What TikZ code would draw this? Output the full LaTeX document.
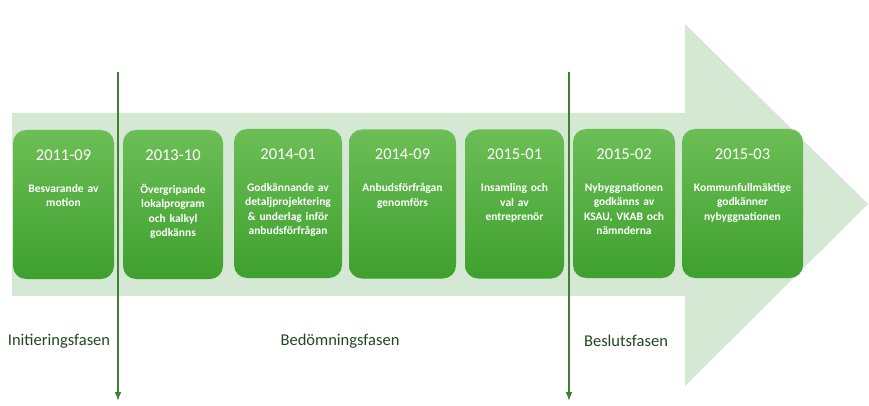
\documentclass[tikz,border=0pt]{standalone}
\usepackage{fontspec}
\setmainfont{Carlito}
\usepackage{xcolor}
\usetikzlibrary{arrows.meta}
\definecolor{arrowbg}{RGB}{213,232,211}
\definecolor{boxtop}{RGB}{108,190,86}
\definecolor{boxbot}{RGB}{62,160,46}
\definecolor{phaseline}{RGB}{62,128,52}
\definecolor{phasetext}{RGB}{32,72,32}

\begin{document}
\begin{tikzpicture}[x=1pt, y=-1pt, >=Latex,
    milestone/.style={rounded corners=13pt, top color=boxtop, bottom color=boxbot, minimum height=149pt, inner sep=0pt},
    datum/.style={text=white, font=\fontsize{16.5}{19}\selectfont},
    desc/.style={text=white, font=\bfseries\fontsize{11.5}{14.5}\selectfont, align=center, text width=100pt, anchor=north, inner sep=0pt},
    phase/.style={text=phasetext, font=\fontsize{16.5}{19}\selectfont}]
    \useasboundingbox (0,0) rectangle (869,406);
    % Background arrow
    \fill[arrowbg] (12,113) -- (685,113) -- (685,24) -- (868,204) -- (685,386) -- (685,296) -- (12,296) -- cycle;
    % Milestones
    \node[milestone, minimum width=101pt] (b1) at (63.5,204.5) {};
    \node[milestone, minimum width=100pt] (b2) at (173,204.5) {};
    \node[milestone, minimum width=108pt] (b3) at (288,203.5) {};
    \node[milestone, minimum width=107pt] (b4) at (402.5,204) {};
    \node[milestone, minimum width=99pt] (b5) at (514.5,204) {};
    \node[milestone, minimum width=102pt] (b6) at (624,203.5) {};
    \node[milestone, minimum width=121pt] (b7) at (742.5,203.5) {};
    % Dates
    \foreach \b/\d in {b1/2011-09, b2/2013-10, b3/2014-01, b4/2014-09, b5/2015-01, b6/2015-02, b7/2015-03}
        \node[datum] (d\b) at ([yshift=-25pt]\b.north) {\d};
    % Descriptions
    \node[desc] (t1) at ([yshift=-54pt]b1.north) {Besvarande av\\motion};
    \node[desc] (t2) at ([yshift=-54pt]b2.north) {Övergripande\\lokalprogram\\och kalkyl\\godkänns};
    \node[desc] (t3) at ([yshift=-54pt]b3.north) {Godkännande av\\detaljprojektering\\\& underlag inför\\anbudsförfrågan};
    \node[desc] (t4) at ([yshift=-54pt]b4.north) {Anbudsförfrågan\\genomförs};
    \node[desc] (t5) at ([yshift=-54pt]b5.north) {Insamling och\\val av\\entreprenör};
    \node[desc] (t6) at ([yshift=-54pt]b6.north) {Nybyggnationen\\godkänns av\\KSAU, VKAB och\\nämnderna};
    \node[desc, text width=120pt] (t7) at ([yshift=-54pt]b7.north) {Kommunfullmäktige\\godkänner\\nybyggnationen};
    % Phase borders
    \coordinate (s1) at (118,72);
    \coordinate (e1) at (118,401);
    \coordinate (s2) at (569,72);
    \coordinate (e2) at (569,401);
    \draw[->, phaseline, line width=1.3pt] (s1) -- (e1);
    \draw[->, phaseline, line width=1.3pt] (s2) -- (e2);
    % Phases
    \node[phase] (p1) at (59,341) {Initieringsfasen};
    \node[phase] (p2) at (340,341) {Bedömningsfasen};
    \node[phase] (p3) at (626,341) {Beslutsfasen};
\end{tikzpicture}
\end{document}
